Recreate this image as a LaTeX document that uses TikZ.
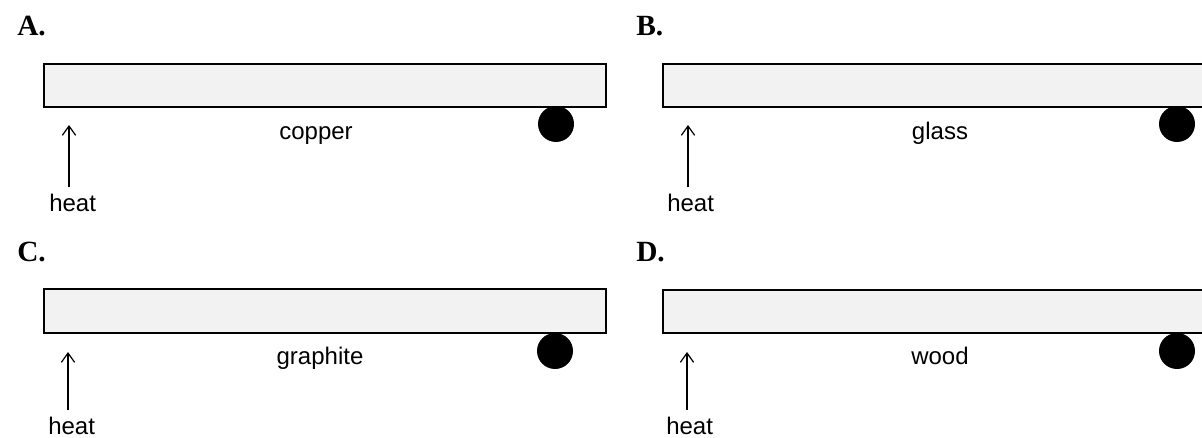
\documentclass[tikz,border=0pt]{standalone}
\usepackage{fontspec}
\setmainfont{Liberation Sans}
\newfontfamily\panelfont{Liberation Serif}
\usetikzlibrary{arrows.meta}

\tikzset{
  rod/.style={draw=black, line width=1.2pt, fill=black!5},
  weight/.style={draw=none, fill=black},
  heatarrow/.style={-{Straight Barb[length=7pt,width=10pt]}, line width=0.9pt, shorten <=4.5pt},
  material/.style={anchor=base, inner sep=0.75pt, font=\fontsize{18}{20}\selectfont},
  heatlabel/.style={anchor=base west, inner sep=0.75pt, font=\fontsize{18}{20}\selectfont},
  panel/.style={anchor=base west, inner sep=0pt, font=\panelfont\bfseries\fontsize{22}{24}\selectfont},
}

\begin{document}
\begin{tikzpicture}[x=0.75pt,y=0.75pt,yscale=-1,xscale=1]
  \useasboundingbox (0,0) rectangle (1202,438);
  \clip (0,0) rectangle (1202,438);

  %Panel A: copper
  \draw[rod] (44,64) rectangle (606,107);
  \fill[weight] (556,124) circle (13.5pt);
  \node[panel] (labA) at (17,36) {A.};
  \node[material] (matA) at (316,139.5) {copper};
  \node[heatlabel] (heatA) at (48,212) {heat};
  \coordinate (tipA) at (69,125);
  \draw[heatarrow] (heatA.north -| tipA) -- (tipA);

  %Panel B: glass
  \draw[rod] (663,64) rectangle (1215,107);
  \fill[weight] (1177,124) circle (13.5pt);
  \node[panel] (labB) at (636,36) {B.};
  \node[material] (matB) at (940,139.5) {glass};
  \node[heatlabel] (heatB) at (666,212) {heat};
  \coordinate (tipB) at (688,125);
  \draw[heatarrow] (heatB.north -| tipB) -- (tipB);

  %Panel C: graphite
  \draw[rod] (44,289) rectangle (606,333);
  \fill[weight] (555,351) circle (13.5pt);
  \node[panel] (labC) at (17,262) {C.};
  \node[material] (matC) at (320,364.5) {graphite};
  \node[heatlabel] (heatC) at (47,434.5) {heat};
  \coordinate (tipC) at (68,352);
  \draw[heatarrow] (heatC.north -| tipC) -- (tipC);

  %Panel D: wood
  \draw[rod] (663,290) rectangle (1215,333);
  \fill[weight] (1177,351) circle (13.5pt);
  \node[panel] (labD) at (636,262) {D.};
  \node[material] (matD) at (940,364.5) {wood};
  \node[heatlabel] (heatD) at (665,434.5) {heat};
  \coordinate (tipD) at (687,352);
  \draw[heatarrow] (heatD.north -| tipD) -- (tipD);

\end{tikzpicture}
\end{document}
